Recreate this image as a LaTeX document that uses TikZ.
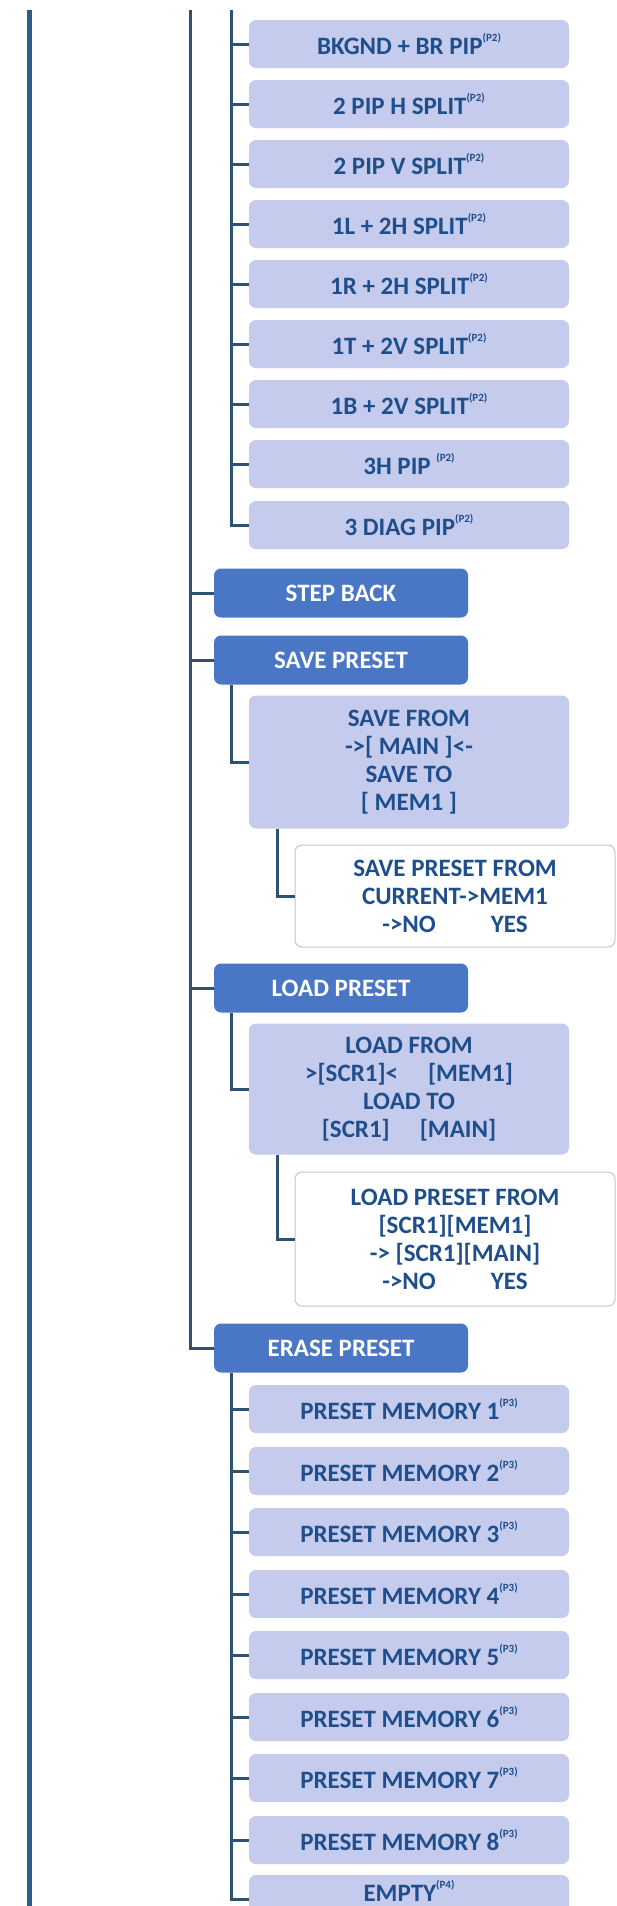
\documentclass[tikz,border=0pt]{standalone}
\usepackage{fontspec}
\setmainfont{Carlito}
\definecolor{lightb}{HTML}{C5CBEC}
\definecolor{darkb}{HTML}{4A76C6}
\definecolor{txtb}{HTML}{1F4E8C}
\definecolor{linec}{HTML}{2F5270}
\definecolor{leftc}{HTML}{2E5C8A}
\newcommand{\ps}[1]{\raisebox{0.5em}{\fontsize{11}{11}\selectfont (#1)}}
\begin{document}
\begin{tikzpicture}[x=1pt,y=-1pt,
  lb/.style={fill=lightb, rounded corners=7pt, minimum width=320pt, minimum height=48pt, text=txtb, font=\fontsize{25}{28}\selectfont\bfseries, align=center, inner sep=0pt},
  db/.style={fill=darkb, rounded corners=7pt, minimum width=254pt, minimum height=49pt, text=white, font=\fontsize{25}{28}\selectfont\bfseries, align=center, inner sep=0pt},
  wb/.style={fill=white, draw=gray!45, line width=1pt, rounded corners=7pt, minimum width=320pt, text=txtb, font=\fontsize{25}{28}\selectfont\bfseries, align=center, inner sep=0pt},
  con/.style={draw=linec, line width=3pt}]
\useasboundingbox (0,0) rectangle (617,1906);
\fill[white] (0,0) rectangle (617,1906);
% left line
\coordinate (L1) at (29,10);
\coordinate (L2) at (29,1906);
\draw[leftc, line width=5pt] (L1) -- (L2);
\coordinate (top2) at (190,10);
\coordinate (top3) at (231,10);
% PIP list
\node[lb] (b1) at (409,44) {BKGND + BR PIP\ps{P2}};
\node[lb] (b2) at (409,104) {2 PIP H SPLIT\ps{P2}};
\node[lb] (b3) at (409,164) {2 PIP V SPLIT\ps{P2}};
\node[lb] (b4) at (409,224) {1L + 2H SPLIT\ps{P2}};
\node[lb] (b5) at (409,284) {1R + 2H SPLIT\ps{P2}};
\node[lb] (b6) at (409,344) {1T + 2V SPLIT\ps{P2}};
\node[lb] (b7) at (409,404) {1B + 2V SPLIT\ps{P2}};
\node[lb] (b8) at (409,464) {3H PIP \ps{P2}};
\node[lb] (b9) at (409,525) {3 DIAG PIP\ps{P2}};
\draw[con] (top3) |- (b9.west);
\foreach \i in {1,...,8} \draw[con] (b\i.west) -- (b\i.west -| top3);
% main items
\node[db] (step) at (341,593) {STEP BACK};
\node[db] (save) at (341,660) {SAVE PRESET};
\node[db] (load) at (341,988) {LOAD PRESET};
\node[db] (erase) at (341,1348) {ERASE PRESET};
\draw[con] (top2) |- (erase.west);
\foreach \n in {step,save,load} \draw[con] (\n.west) -- (\n.west -| top2);
% save
\node[lb, minimum height=133pt] (sfrom) at (409,762) {SAVE FROM\\->{[} MAIN ]<-\\SAVE TO\\{[} MEM1 ]};
\node[wb, minimum height=102pt] (sconf) at (455,896) {SAVE PRESET FROM\\CURRENT->MEM1\\->NO\hspace{2.2em}YES};
\draw[con] (save.south -| top3) |- (sfrom.west);
\draw[con] ([xshift=29pt]sfrom.south west) |- (sconf.west);
% load
\node[lb, minimum height=131pt] (lfrom) at (409,1089) {LOAD FROM\\>{[}SCR1]<\hspace{1.2em}{[}MEM1]\\LOAD TO\\{[}SCR1]\hspace{1.2em}{[}MAIN]};
\node[wb, minimum height=134pt] (lconf) at (455,1239) {LOAD PRESET FROM\\{[}SCR1]{[}MEM1]\\-> {[}SCR1]{[}MAIN]\\->NO\hspace{2.2em}YES};
\draw[con] (load.south -| top3) |- (lfrom.west);
\draw[con] ([xshift=29pt]lfrom.south west) |- (lconf.west);
% erase
\foreach \i/\y in {1/1409,2/1471,3/1532,4/1594,5/1655,6/1717,7/1778,8/1840}
  \node[lb] (m\i) at (409,\y) {PRESET MEMORY \i\ps{P3}};
\node[lb, text height=18pt, text depth=14pt] (empty) at (409,1899) {EMPTY\ps{P4}};
\draw[con] (erase.south -| top3) |- (empty.west);
\foreach \i in {1,...,8} \draw[con] (m\i.west) -- (m\i.west -| top3);
\end{tikzpicture}
\end{document}
